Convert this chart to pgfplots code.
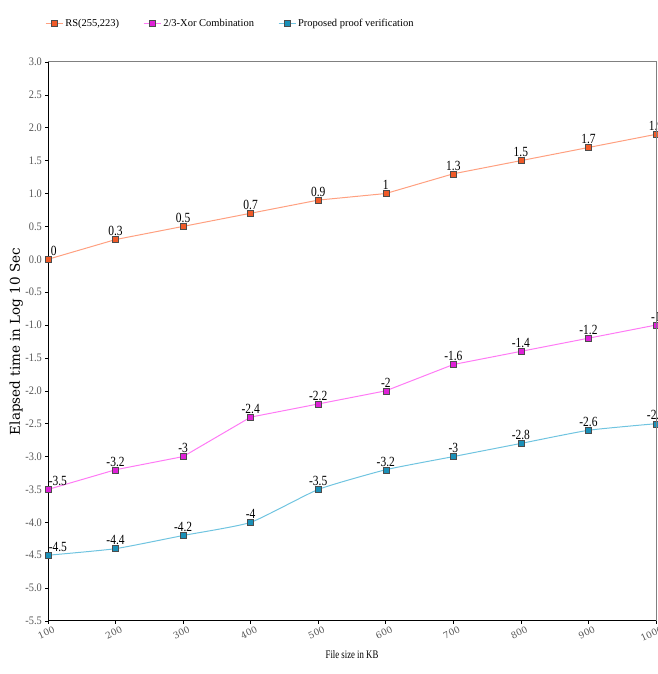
\documentclass[border=0pt]{standalone}
\usepackage{pgfplots}
\pgfplotsset{compat=1.18}
\usepackage{fontspec}
\setmainfont{Liberation Serif}
\newfontfamily\labfont{DejaVu Serif}
\definecolor{rsline}{HTML}{FFA080}
\definecolor{rsmark}{HTML}{F05A28}
\definecolor{xline}{HTML}{FF7AF5}
\definecolor{xmark}{HTML}{E020D8}
\definecolor{pline}{HTML}{70C4E0}
\definecolor{pmark}{HTML}{1A90B8}
\definecolor{tickgray}{HTML}{555555}
\begin{document}
\begin{tikzpicture}
\begin{axis}[
  width=608pt, height=559pt, scale only axis,
  xmin=100, xmax=1000, ymin=-5.5, ymax=3.0,
  xtick={100,200,...,1000},
  ytick={-5.5,-5,...,3},
  yticklabel style={/pgf/number format/fixed, /pgf/number format/fixed zerofill, /pgf/number format/precision=1, /pgf/number format/assume math mode=true, font=\fontsize{11.5}{12}\selectfont, xscale=0.9},
  xticklabel style={rotate=25, anchor=north east, xshift=7pt, font=\labfont\fontsize{9}{11}\selectfont, /pgf/number format/assume math mode=true, /pgf/number format/set thousands separator={}},
  ticklabel style={text=tickgray},
  tick align=outside, major tick length=3pt,
  tick style={black, line width=0.6pt},
  axis line style={line width=1pt},
  axis x line*=bottom, axis y line*=left,
  xlabel={File size in KB},
  ylabel={Elapsed time in Log 10 Sec},
  xlabel style={font=\fontsize{11.5}{12}\selectfont, xscale=0.76, yshift=-1pt},
  ylabel style={font=\labfont\fontsize{13.5}{14}\selectfont, yshift=-4pt},
  clip=false,
  legend style={at={(0,1)}, anchor=south west, yshift=30pt, xshift=-6pt, draw=none, legend columns=3,
    font=\fontsize{10.5}{12}\selectfont, /tikz/every even column/.append style={column sep=22pt}},
  legend cell align=left,
  nodes near coords, point meta=explicit symbolic,
  every node near coord/.append style={font=\fontsize{14}{15}\selectfont, xscale=0.82, text=black},
]
\addplot[rsline, line width=1pt, mark=square*, mark size=3pt, mark options={fill=rsmark, draw=black!70, line width=0.4pt}] coordinates {
(100,0)[\hspace*{14pt}0] (200,0.3)[0.3] (300,0.5)[0.5] (400,0.7)[0.7] (500,0.9)[0.9] (600,1.0)[1] (700,1.3)[1.3] (800,1.5)[1.5] (900,1.7)[1.7] (1000,1.9)[1.9]};
\addlegendentry{RS(255,223)}
\addplot[xline, line width=1pt, mark=square*, mark size=3pt, mark options={fill=xmark, draw=black!70, line width=0.4pt}] coordinates {
(100,-3.5)[\hspace*{24pt}-3.5] (200,-3.2)[-3.2] (300,-3.0)[-3] (400,-2.4)[-2.4] (500,-2.2)[-2.2] (600,-2.0)[-2] (700,-1.6)[-1.6] (800,-1.4)[-1.4] (900,-1.2)[-1.2] (1000,-1.0)[-1]};
\addlegendentry{2/3-Xor Combination}
\addplot[pline, line width=1pt, smooth, tension=0.3, mark=square*, mark size=3pt, mark options={fill=pmark, draw=black!70, line width=0.4pt}] coordinates {
(100,-4.5)[\hspace*{24pt}-4.5] (200,-4.4)[-4.4] (300,-4.2)[-4.2] (400,-4.0)[-4] (500,-3.5)[-3.5] (600,-3.2)[-3.2] (700,-3.0)[-3] (800,-2.8)[-2.8] (900,-2.6)[-2.6] (1000,-2.5)[-2.5]};
\addlegendentry{Proposed proof verification}
\end{axis}
\draw[gray, line width=1pt] (current axis.north west) -- (current axis.north east) -- (current axis.south east);
\pgfresetboundingbox
\useasboundingbox ([xshift=-48pt,yshift=-53pt]current axis.south west) rectangle ([yshift=62pt,xshift=1pt]current axis.north east);
\end{tikzpicture}
\end{document}
